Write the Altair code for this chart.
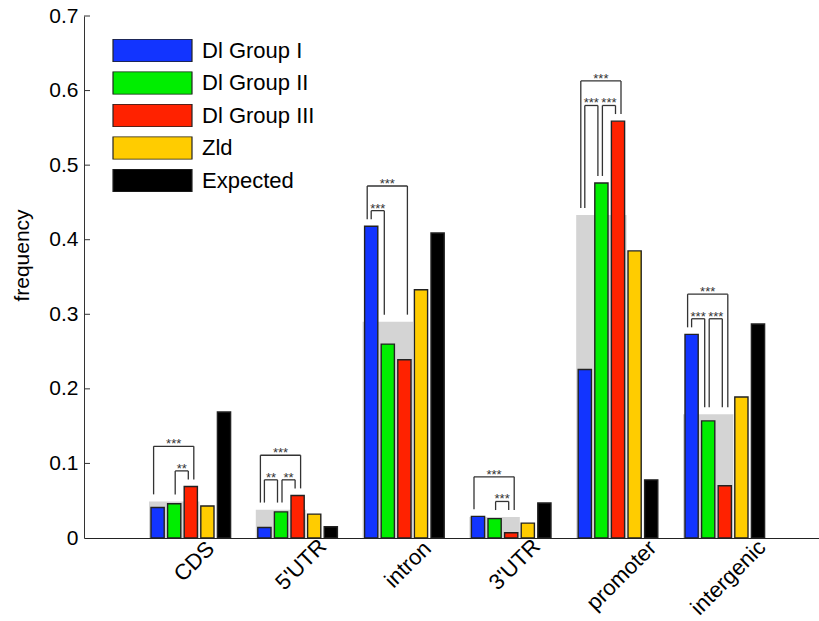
import json

import altair as alt
import pandas as pd

# ---- data -------------------------------------------------------------
categories = ["CDS", "5'UTR", "intron", "3'UTR", "promoter", "intergenic"]
series = ["Dl Group I", "Dl Group II", "Dl Group III", "Zld", "Expected"]
colors = ["#1234ff", "#00ee00", "#ff2200", "#ffcc00", "#000000"]

dl_group_1 = [0.041, 0.014, 0.418, 0.029, 0.226, 0.273]
dl_group_2 = [0.046, 0.035, 0.260, 0.026, 0.476, 0.157]
dl_group_3 = [0.069, 0.057, 0.239, 0.007, 0.559, 0.070]
zld = [0.043, 0.032, 0.333, 0.020, 0.385, 0.189]
expected = [0.169, 0.015, 0.409, 0.047, 0.078, 0.287]

# grey backdrop drawn behind the three Dl groups
dl_pooled = [0.049, 0.038, 0.290, 0.028, 0.433, 0.166]

# significance brackets: category, first bar, second bar, stars
bracket_cat = ["CDS", "CDS",
               "5'UTR", "5'UTR", "5'UTR",
               "intron", "intron",
               "3'UTR", "3'UTR",
               "promoter", "promoter", "promoter",
               "intergenic", "intergenic", "intergenic"]
bracket_a = [0, 1, 0, 0, 1, 0, 0, 0, 1, 0, 0, 1, 0, 0, 1]
bracket_b = [2, 2, 2, 1, 2, 2, 1, 2, 2, 2, 1, 2, 2, 1, 2]
bracket_stars = ["***", "**", "***", "**", "**", "***", "***", "***", "***",
                 "***", "***", "***", "***", "***", "***"]

y_ticks = [0, 0.1, 0.2, 0.3, 0.4, 0.5, 0.6, 0.7]

# ---- geometry (x in category-step units) ------------------------------
PLOT_W, PLOT_H = 735, 522
STEP_PX = 106.8
PX = 1.0 / STEP_PX
X_MAX = PLOT_W / STEP_PX
BAR_STEP = 16.6 * PX
HALF = 6.6 * PX

LEG_GAP = 0.0095
TOP_GAP = 0.0115
LEVEL_GAP = 0.033
LEG_SHIFT = {(0, 2): (-4, 3), (0, 1): (0, -3.5), (1, 2): (1, -2.5)}

FONT = 22
# rotated category labels hang from a common top line, so longer ones sit lower
LABEL_PAD = [23, 26, 26, 26, 37, 39]

values = [dl_group_1, dl_group_2, dl_group_3, zld, expected]


def center(g, j):
    return g + 1 + (j - 2) * BAR_STEP


bar_rows = []
for j, (name, vals) in enumerate(zip(series, values)):
    for g, cat in enumerate(categories):
        c = center(g, j)
        bar_rows.append({"category": cat, "series": name, "value": vals[g],
                         "x0": c - HALF, "x1": c + HALF})
bars_df = pd.DataFrame(bar_rows)

pool_df = pd.DataFrame({
    "category": categories,
    "value": dl_pooled,
    "x0": [center(g, 0) - HALF - 2 * PX for g in range(len(categories))],
    "x1": [center(g, 2) + HALF + 2 * PX for g in range(len(categories))],
})


def leg_end(g, j):
    return max(values[j][g], dl_pooled[g]) + LEG_GAP


legs, tops, stars = [], [], []
for g, cat in enumerate(categories):
    idx = [k for k, c in enumerate(bracket_cat) if c == cat]
    inner = [k for k in idx if (bracket_a[k], bracket_b[k]) != (0, 2)]
    inner_top = None
    if inner:
        inner_top = max(max(leg_end(g, bracket_a[k]), leg_end(g, bracket_b[k]))
                        for k in inner) + TOP_GAP
    for k in idx:
        a, b = bracket_a[k], bracket_b[k]
        if (a, b) == (0, 2):
            top = max(leg_end(g, 0), leg_end(g, 2)) + TOP_GAP
            if inner_top is not None:
                top = max(top, inner_top + LEVEL_GAP)
        else:
            top = inner_top
        sl, sr = LEG_SHIFT[(a, b)]
        xl = center(g, a) + sl * PX
        xr = center(g, b) + sr * PX
        legs.append({"x": xl, "y0": leg_end(g, a), "y1": top})
        legs.append({"x": xr, "y0": leg_end(g, b), "y1": top})
        tops.append({"x0": xl, "x1": xr, "y": top})
        stars.append({"x": (xl + xr) / 2, "y": top, "text": bracket_stars[k]})

legs_df = pd.DataFrame(legs)
tops_df = pd.DataFrame(tops)
stars_df = pd.DataFrame(stars)
ticks_df = pd.DataFrame({"v": y_ticks[1:]})

# ---- scales & axes ----------------------------------------------------
x_scale = alt.Scale(domain=[0, X_MAX], nice=False, zero=False)
y_scale = alt.Scale(domain=[0, 0.7], nice=False)

label_padding = {
    "condition": [{"test": f"round(datum.value) == {g + 1}", "value": p}
                  for g, p in enumerate(LABEL_PAD)],
    "value": 26,
}

x_axis = alt.Axis(
    values=list(range(1, len(categories) + 1)),
    labelExpr=json.dumps(categories) + "[round(datum.value) - 1]",
    ticks=False, tickSize=0, grid=False, title=None,
    labelAngle=315, labelAlign="center", labelBaseline="middle",
    labelPadding=label_padding, labelOffset=3, labelFontSize=FONT,
    labelColor="#000000", labelFlush=False, labelOverlap=False,
    domainColor="#222222", domainWidth=1,
)
y_axis = alt.Axis(
    values=y_ticks, format=".1~f",
    ticks=False, tickSize=0, grid=False,
    labelPadding=6, labelFontSize=FONT - 1, labelColor="#000000",
    labelFlush=False, labelOverlap=False,
    domainColor="#333333", domainWidth=1,
    title="frequency", titleFontSize=FONT - 1, titleFontWeight="normal",
    titleColor="#000000", titleAngle=270, titleAlign="center",
    titleBaseline="middle", titleX=-62, titleY=239,
)


def X(field):
    return alt.X(field, type="quantitative", scale=x_scale, axis=x_axis)


def Y(field):
    return alt.Y(field, type="quantitative", scale=y_scale, axis=y_axis)


pool = alt.Chart(pool_df).mark_rect(color="#d4d4d4").encode(
    x=X("x0"), x2="x1", y=Y("value"), y2=alt.datum(0)
)

bars = alt.Chart(bars_df).mark_rect(stroke="#222222", strokeWidth=1.4).encode(
    x=X("x0"), x2="x1", y=Y("value"), y2=alt.datum(0),
    color=alt.Color(
        "series:N",
        scale=alt.Scale(domain=series, range=colors),
        legend=alt.Legend(
            orient="none", legendX=28, legendY=23, title=None,
            symbolType="M-1,-0.29H1V0.29H-1Z", symbolSize=6241,
            symbolStrokeColor="#222222", symbolStrokeWidth=1.2, symbolOpacity=1,
            labelFontSize=FONT, labelOffset=9, labelColor="#000000",
            clipHeight=23, rowPadding=9.5, labelLimit=400,
        ),
    ),
)

legs_layer = alt.Chart(legs_df).mark_rule(color="#333333", strokeWidth=1.3).encode(
    x=X("x"), y=Y("y0"), y2="y1"
)
tops_layer = alt.Chart(tops_df).mark_rule(color="#333333", strokeWidth=1.3).encode(
    x=X("x0"), x2="x1", y=Y("y")
)
stars_layer = alt.Chart(stars_df).mark_text(
    fontSize=13, color="#333333", baseline="alphabetic", align="center", dy=2
).encode(x=X("x"), y=Y("y"), text="text:N")

ticks_layer = alt.Chart(ticks_df).mark_rule(color="#333333", strokeWidth=1).encode(
    x=alt.value(0), x2=alt.value(6), y=Y("v")
)

chart = alt.layer(pool, bars, legs_layer, tops_layer, stars_layer, ticks_layer).properties(
    width=PLOT_W, height=PLOT_H,
    autosize=alt.AutoSizeParams(type="none"),
    padding={"left": 84, "top": 16, "right": 0, "bottom": 83},
).configure(font="Liberation Sans").configure_view(stroke=None)

chart.save("out.html", embed_options={"renderer": "svg", "actions": False})
